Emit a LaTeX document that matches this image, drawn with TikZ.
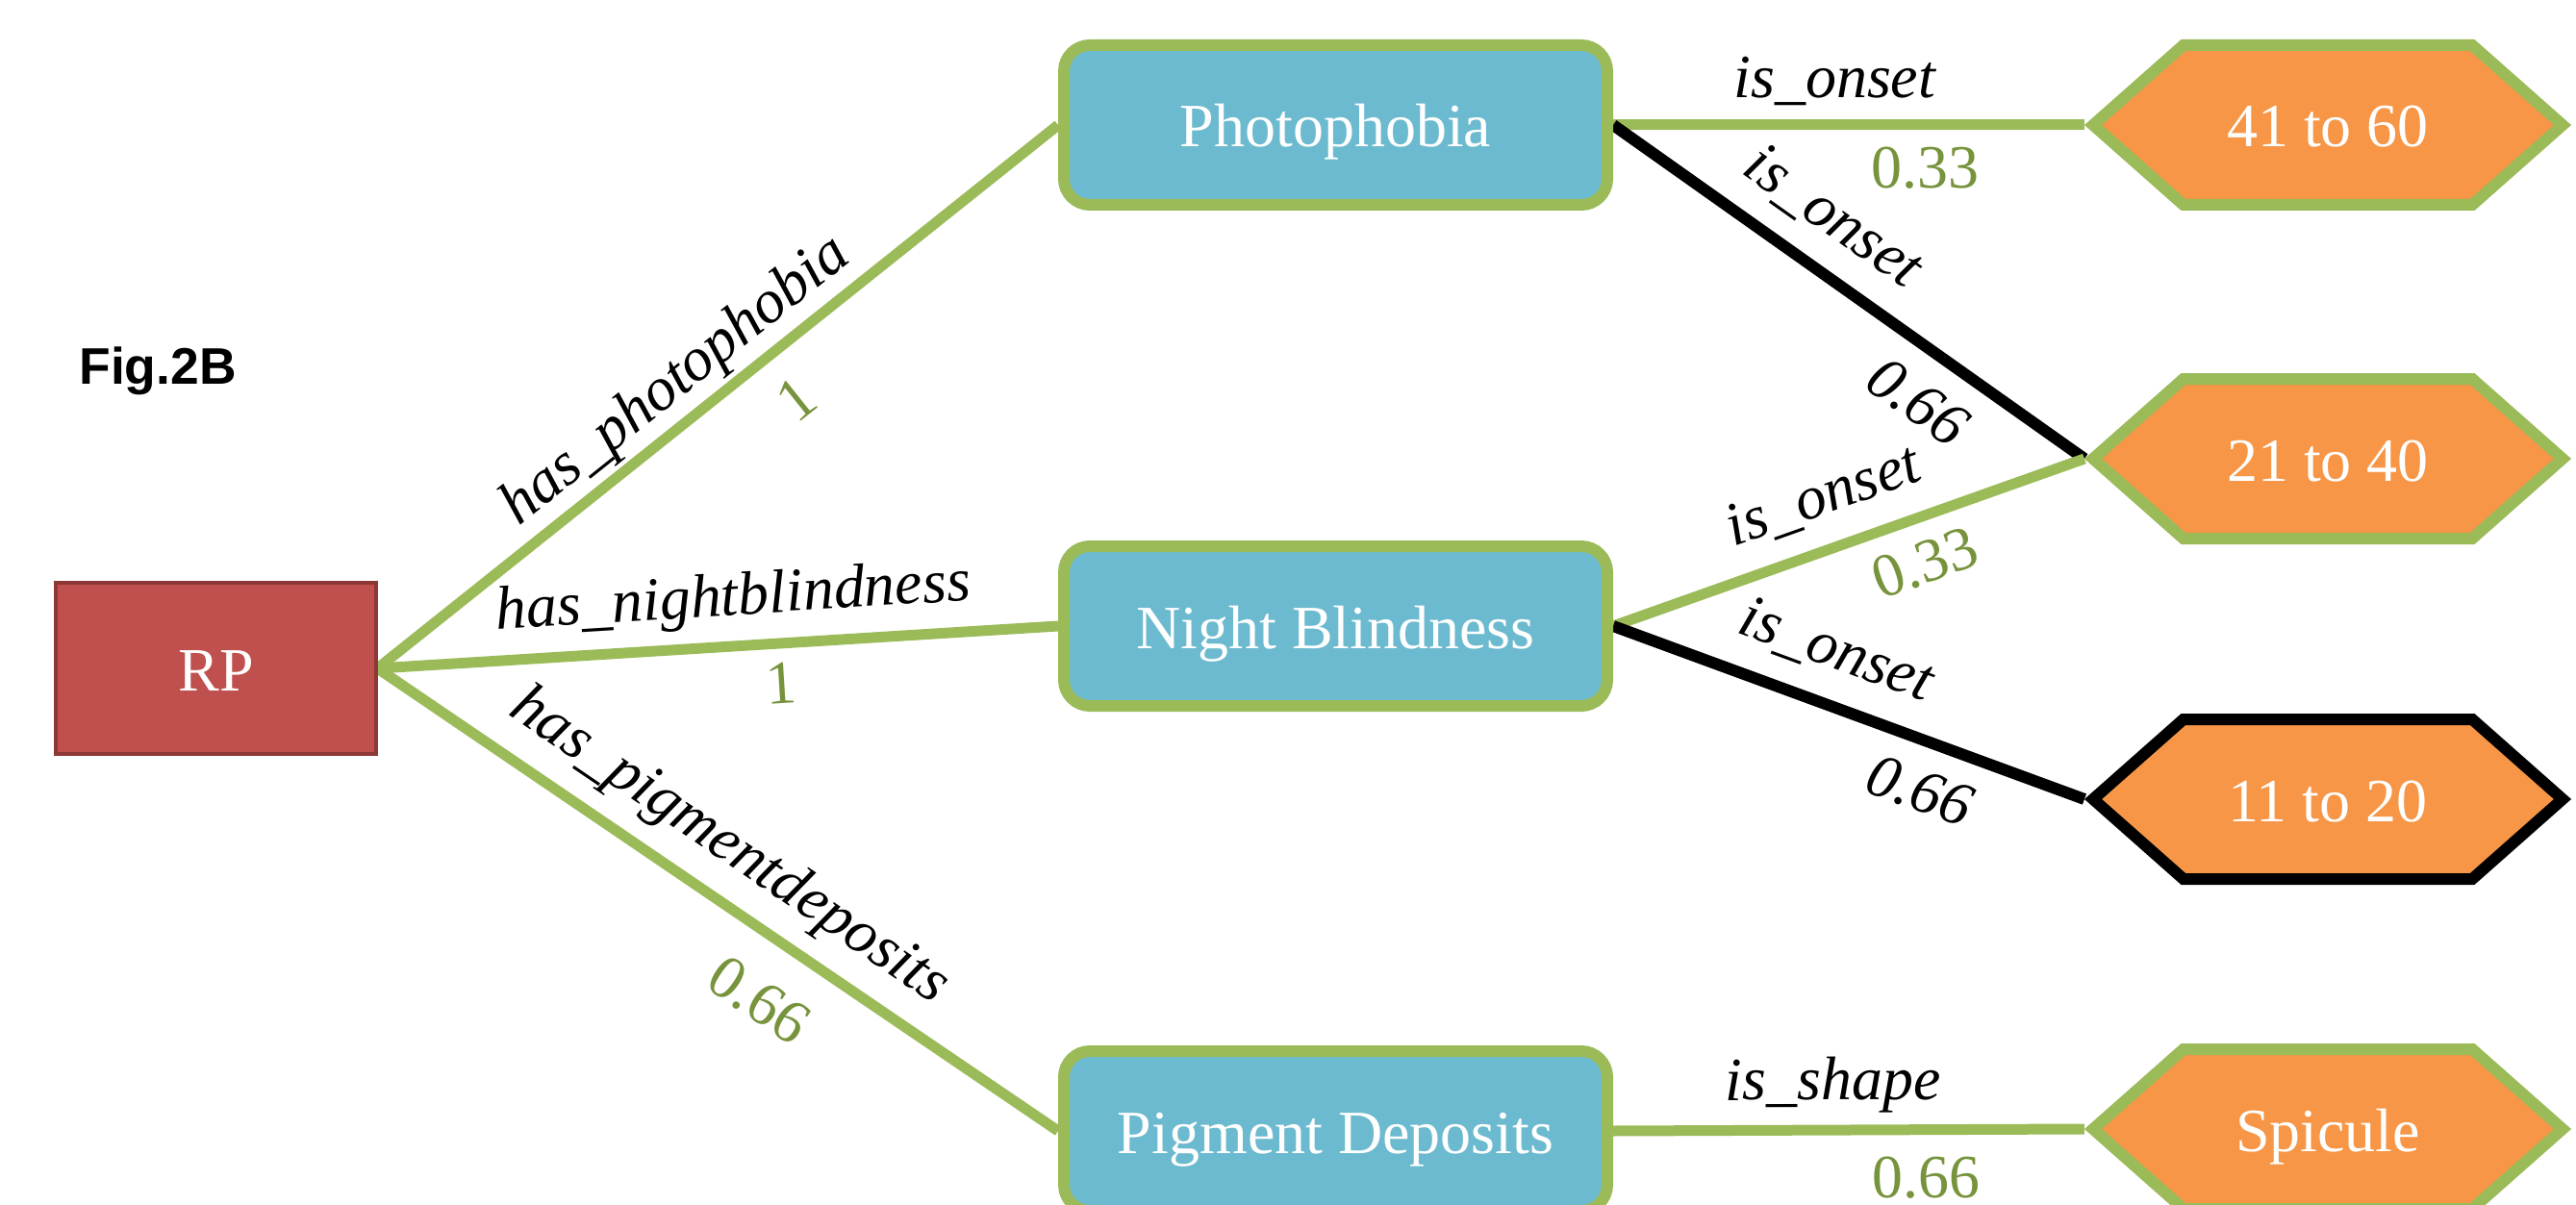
\documentclass[tikz,border=0pt]{standalone}
\usepackage{fontspec}
\setmainfont{Liberation Serif}
\newfontfamily\figfont{Liberation Sans}
\usepackage{tikz}
\usetikzlibrary{shapes,positioning,backgrounds}
\definecolor{lgreen}{HTML}{9BBB59}
\definecolor{dgreen}{HTML}{77933C}
\definecolor{aqua}{HTML}{6CBACF}
\definecolor{orng}{HTML}{F79646}
\definecolor{rpred}{HTML}{C0504D}
\definecolor{rpdark}{HTML}{8C3836}
\newcommand{\labsize}{\fontsize{18.2}{22}\selectfont}
\tikzset{dis/.style={rectangle,draw=rpdark,fill=rpred,line width=0.04cm,minimum width=3.32cm,minimum height=1.78cm,text=white,text height=0.46cm,text depth=0cm},
  sym/.style={rectangle,rounded corners=0.27cm,draw=lgreen,fill=aqua,line width=0.12cm,minimum width=5.65cm,minimum height=1.66cm,text=white,text height=0.46cm,text depth=0cm},
  val/.style={signal,signal to=east and west,signal pointer angle=83,draw=lgreen,fill=orng,line width=0.12cm,minimum width=4.88cm,minimum height=1.66cm,text=white,text height=0.46cm,text depth=0cm},
  rel/.style={font=\labsize\itshape,text height=0.44cm,text depth=0.14cm,inner sep=0pt,sloped},
  wt/.style={text=dgreen,text height=0.44cm,text depth=0cm,inner sep=0pt,sloped},
  wtk/.style={font=\labsize\itshape,text height=0.44cm,text depth=0cm,inner sep=0pt,sloped},
  gline/.style={draw=lgreen,line width=0.11cm},
  kline/.style={draw=black,line width=0.12cm}}

\begin{document}
\begin{tikzpicture}[every node/.style={font=\labsize}]
    \clip (0,0) rectangle (26.78,-12.53);
    \node[font=\figfont\bfseries\fontsize{15.2}{18}\selectfont,anchor=base] (fig) at (1.64,-4.00) {Fig.2B};

    \node[dis] (rp) at (2.245,-6.95) {RP};
    \node[sym] (photo) at (13.885,-1.30) {Photophobia};
    \node[sym] (night) at (13.885,-6.51) {Night Blindness};
    \node[sym] (pigment) at (13.885,-11.76) {Pigment Deposits};
    \node[val] (h41) at (24.20,-1.30) {41 to 60};
    \node[val] (h21) at (24.20,-4.77) {21 to 40};
    \node[val,draw=black] (h11) at (24.20,-8.31) {11 to 20};
    \node[val] (hsp) at (24.20,-11.74) {Spicule};

    \begin{scope}[on background layer]
    \draw [gline] (rp.east) to node[rel,pos=0.474,above=0.04cm]{has\_photophobia} node[wt,pos=0.569,below=0.245cm]{1} (photo.west);
    \draw [gline] (rp.east) to node[rel,pos=0.527,above=0.13cm]{has\_nightblindness} node[wt,pos=0.59,below=0.13cm]{1} (night.west);
    \draw [gline] (rp.east) to node[rel,pos=0.475,above=0.17cm]{has\_pigmentdeposits} node[wt,pos=0.61,below=0.33cm]{0.66} (pigment.west);
    \draw [gline] (photo.east) to node[rel,pos=0.47,above=0.09cm]{is\_onset} node[wt,pos=0.663,below=0.16cm]{0.33} (h41.west);
    \draw [kline] (photo.east) to node[rel,pos=0.403,above=0.16cm]{is\_onset} node[wtk,pos=0.708,below=0.22cm]{0.66} (h21.west);
    \draw [gline] (night.east) to node[rel,pos=0.483,above=0.16cm]{is\_onset} node[wt,pos=0.63,below=0.18cm]{0.33} (h21.west);
    \draw [kline] (night.east) to node[rel,pos=0.434,above=0.18cm]{is\_onset} node[wtk,pos=0.687,below=0.21cm]{0.66} (h11.west);
    \draw [gline] (pigment.east) to node[rel,pos=0.467,above=0.12cm]{is\_shape} node[wt,pos=0.663,below=0.21cm]{0.66} (hsp.west);
    \end{scope}
\end{tikzpicture}
\end{document}
